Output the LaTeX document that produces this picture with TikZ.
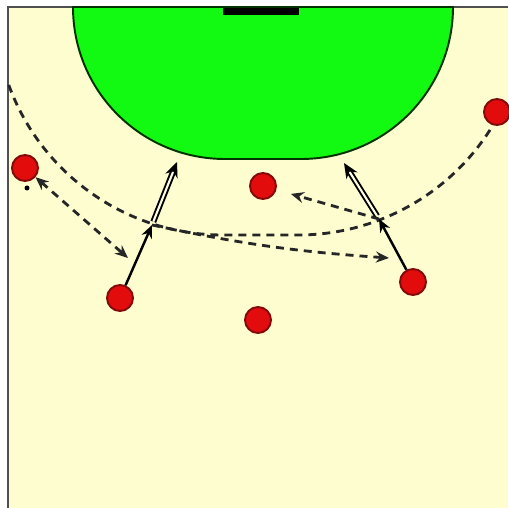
\documentclass[tikz,border=0pt]{standalone}
\usepackage{tikz}
\usetikzlibrary{arrows.meta,calc,positioning}
\definecolor{amarillo}{RGB}{253,253,208}
\definecolor{verde}{RGB}{18,250,18}
\definecolor{rojo}{RGB}{226,12,12}
\definecolor{rojooscuro}{RGB}{130,10,10}
\definecolor{marco}{RGB}{80,80,80}
\tikzset{
  jugador/.style={
    circle,
    draw=rojooscuro,
    fill=rojo,
    line width=1.1pt,
    minimum size=0.52cm,
    inner sep=0pt
  },
  nueve/.style={
    dash pattern=on 1.6mm off 1.2mm,
    line width=1.6pt,
    black!85
  },
  pase/.style={
    nueve,
    -{Stealth[length=2.6mm,width=2.2mm]}
  },
  carrera/.style={
    line width=1.4pt,
    -{Stealth[length=2.6mm,width=2.2mm]}
  },
  tiro/.style={
    double=amarillo!60,
    double distance=1.2pt,
    line width=1.1pt,
    -{Stealth[length=3mm,width=2.6mm]}
  }
}

\begin{document}
\begin{tikzpicture}[x=0.02cm,y=0.02cm]
\useasboundingbox (0,0) rectangle (508,508);
% pista
\fill[amarillo] (8,0) rectangle (508,501);
\draw[marco, line width=1.3pt] (8,0) -- (8,501) -- (508,501);
% area de 6 m
\draw[fill=verde, draw=black!80!green, line width=1.1pt]
  (73,501) arc[start angle=180, end angle=270, radius=152]
  -- (301,349) arc[start angle=270, end angle=360, radius=152] -- cycle;
\fill[black] (223,493) rectangle (299,500);
% linea de 9 m
\draw[nueve] (223,501) ++(200:228) arc[start angle=200, end angle=270, radius=228]
  -- (298,273) arc[start angle=270, end angle=333, radius=228];
% jugadores
\node[jugador] (p1) at (25,340) {};
\node[jugador] (p2) at (263,322) {};
\node[jugador] (p3) at (497,396) {};
\node[jugador] (p4) at (120,210) {};
\node[jugador] (p5) at (258,188) {};
\node[jugador] (p6) at (413,226) {};
\fill[black] (27,320) circle (2.5);
% puntos de recepcion y tiro
\coordinate (r1) at (152,283);
\coordinate (t1) at (177,346);
\coordinate (r2) at (379,289);
\coordinate (t2) at (344,345);
\coordinate (c1) at (128,250);
\coordinate (c2) at (389,250);
% acciones
\draw[pase, {Stealth[length=2.6mm,width=2.2mm]}-{Stealth[length=2.6mm,width=2.2mm]}] (p1) -- (c1);
\draw[carrera] (p4) -- (r1);
\draw[tiro, shorten <=2pt] (r1) -- (t1);
\draw[pase] (r1) to[bend right=4] (c2);
\draw[carrera] (p6) -- (r2);
\draw[tiro, shorten <=2pt] (r2) -- (t2);
\draw[pase, shorten >=0.3cm] (r2) -- (p2);
\end{tikzpicture}
\end{document}
